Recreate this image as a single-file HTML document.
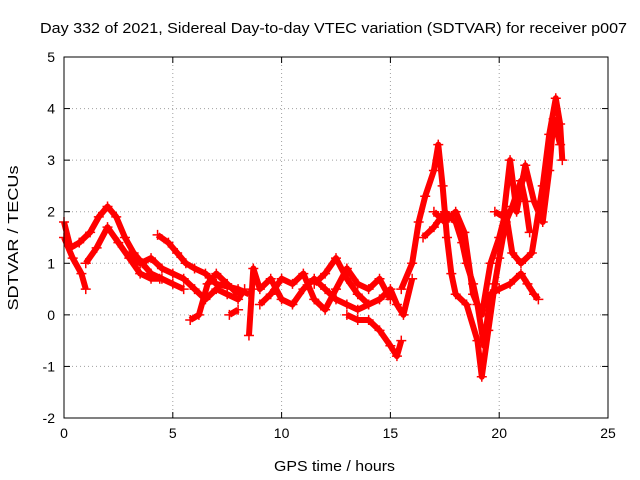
<!DOCTYPE html>
<html><head><meta charset="utf-8">
<style>body{margin:0;background:#fff}svg{display:block;font-family:"Liberation Sans",sans-serif}</style>
</head><body>
<svg id="chart" width="640" height="480">
<text x="40" y="33" textLength="587" lengthAdjust="spacingAndGlyphs" font-size="15">Day 332 of 2021, Sidereal Day-to-day VTEC variation (SDTVAR) for receiver p007</text>
<text x="274" y="471" textLength="121" lengthAdjust="spacingAndGlyphs" font-size="15">GPS time / hours</text>
<text x="0" y="0" transform="translate(18,238) rotate(-90)" text-anchor="middle" textLength="145" lengthAdjust="spacingAndGlyphs" font-size="15">SDTVAR / TECUs</text>
<g id="grid"></g><g id="ticks"></g><g id="marks"></g>
<rect x="64" y="57" width="544" height="361" fill="none" stroke="#000"/>
</svg>
<script>
const xTicks=[0,5,10,15,20,25];
const yTicks=[-2,-1,0,1,2,3,4,5];
const s1=[[0,1.8],[0.3,1.3],[0.7,1.4],[1.2,1.6],[1.6,1.9],[2.0,2.1],[2.4,1.9],[2.8,1.5],[3.2,1.2],[3.6,1.0],[4.0,0.8],[4.5,0.7],[5.0,0.6],[5.5,0.5]];
const s2=[[0,1.5],[0.4,1.1],[0.8,0.8],[1.0,0.5]];
const s3=[[1.0,1.0],[1.5,1.3],[2.0,1.7],[2.5,1.4],[3.0,1.1],[3.5,0.8],[4.0,0.7],[4.4,0.7]];
const s4=[[4.3,1.55],[4.8,1.4],[5.2,1.2],[5.6,1.0],[6.0,0.9],[6.5,0.8],[7,0.6],[7.5,0.55],[8,0.5],[8.5,0.4]];
const s5=[[3.0,1.2],[3.5,1.0],[4.0,1.1],[4.5,0.9],[5,0.8],[5.5,0.7],[6.0,0.5],[6.5,0.3],[7.0,0.5],[7.5,0.4],[8.0,0.3],[8.3,0.5]];
const s6=[[5.8,-0.1],[6.2,0.0],[6.6,0.6],[7.0,0.8],[7.5,0.6],[8,0.4]];
const s7=[[7.6,0.0],[8.0,0.1]];
const s8=[[8.5,-0.4],[8.7,0.9],[9,0.5],[9.5,0.7],[10,0.3],[10.5,0.2],[11,0.5],[11.5,0.7],[12,0.5],[12.5,0.3],[13,0.2],[13.5,0.1],[14,0.2],[14.5,0.3],[15,0.5],[15.3,0.2],[15.6,0.0],[16,0.7]];
const s9=[[9,0.2],[9.5,0.4],[10,0.7],[10.5,0.6],[11,0.8],[11.5,0.3],[12,0.1],[12.5,0.5],[13,0.9],[13.5,0.6],[14,0.5],[14.5,0.7],[15,0.3]];
const s10=[[11.5,0.6],[12,0.8],[12.5,1.1],[13,0.7],[13.5,0.4],[14,0.2]];
const s11=[[13,0.0],[13.5,-0.1],[14,-0.1],[14.5,-0.3],[15,-0.6],[15.3,-0.8],[15.5,-0.5]];
const s12=[[15.5,0.5],[16,1.0],[16.3,1.8],[16.6,2.3],[17,2.8],[17.2,3.3],[17.4,2.5],[17.6,1.5],[17.8,0.8],[18,0.4],[18.5,0.2],[19,-0.5],[19.2,-1.2],[19.5,-0.3],[19.8,0.6],[20,1.1],[20.3,1.8],[20.6,2.1],[21,2.6],[21.2,2.2],[21.4,1.6]];
const s13=[[16.5,1.5],[17,1.7],[17.5,2.0],[18,1.8],[18.3,1.4],[18.5,1.0],[18.8,0.6],[19,0.2],[19.3,-0.6],[19.6,0.4],[20,0.5],[20.5,0.6],[21,0.8],[21.3,0.6],[21.6,0.4],[21.8,0.3]];
const s14=[[17,2.0],[17.5,1.8],[18,2.0],[18.4,1.6],[18.8,0.4],[19.2,0],[19.6,1.0],[20,1.5],[20.3,2.0],[20.6,1.2],[21,1.0],[21.5,1.2],[22,2.5],[22.3,3.5],[22.6,4.2],[22.8,3.7],[22.9,3.0]];
const s15=[[19.8,2.0],[20.2,1.9],[20.5,3.0],[20.8,2.0],[21.2,2.9],[21.6,2.2],[22,1.8],[22.3,2.8],[22.5,3.8],[22.8,3.3]];
const series=[s1,s2,s3,s4,s5,s6,s7,s8,s9,s10,s11,s12,s13,s14,s15];
const L=64,R=608,T=57,B=418;
const xs=v=>L+(v-0)/25*(R-L);
const ys=v=>B-(v+2)/7*(B-T);
const NS="http://www.w3.org/2000/svg";
const grid=document.getElementById('grid'),ticks=document.getElementById('ticks'),marks=document.getElementById('marks');
function mk(t,a,p){const e=document.createElementNS(NS,t);for(const k in a)e.setAttribute(k,a[k]);p.appendChild(e);return e;}
xTicks.forEach(v=>{const x=xs(v);
 if(v>0&&v<25){const g=mk('line',{x1:x,x2:x,y1:T,y2:B,stroke:'#a0a0a0','stroke-dasharray':'1,3'},grid);
 
 }
 const t=mk('text',{x:x,y:B+20,'text-anchor':'middle','font-size':'14'},ticks);t.textContent=v;
 
 
 mk('line',{x1:x,x2:x,y1:B,y2:B-6,stroke:'#000'},ticks);mk('line',{x1:x,x2:x,y1:T,y2:T+6,stroke:'#000'},ticks);});
yTicks.forEach(v=>{const y=ys(v);
 if(v>-2&&v<5){const g=mk('line',{x1:L,x2:R,y1:y,y2:y,stroke:'#a0a0a0','stroke-dasharray':'1,3'},grid);
 
 }
 const t=mk('text',{x:L-9,y:y+5,'text-anchor':'end','font-size':'14'},ticks);t.textContent=v;
 
 
 mk('line',{x1:L,x2:L+6,y1:y,y2:y,stroke:'#000'},ticks);mk('line',{x1:R,x2:R-6,y1:y,y2:y,stroke:'#000'},ticks);});
series.forEach((s,i)=>{
 const g=mk('g',{},marks);
 
 
 mk('polyline',{points:s.map(p=>xs(p[0])+','+ys(p[1])).join(' '),fill:'none',stroke:'#f00','stroke-width':6,'stroke-linejoin':'round'},g);
 let d='';s.forEach(p=>{const x=xs(p[0]),y=ys(p[1]);d+=`M${x-5},${y}h10M${x},${y-5}v10`;});
 mk('path',{d:d,stroke:'#f00','stroke-width':1.5},g);
});
</script>
</body></html>
